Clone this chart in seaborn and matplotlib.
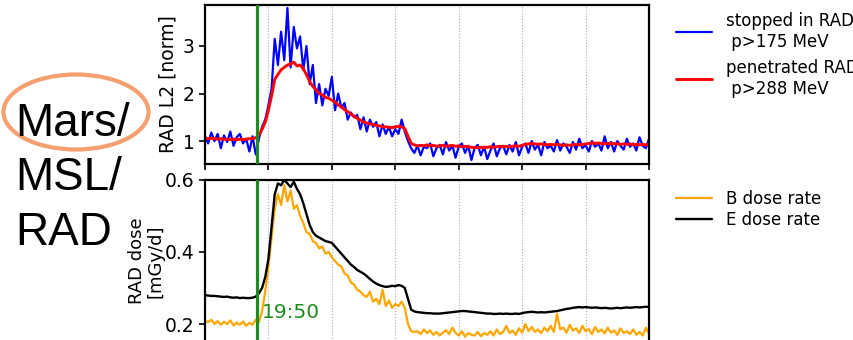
import numpy as np
import pandas as pd
import seaborn as sns
import matplotlib.pyplot as plt
from matplotlib.patches import Ellipse

# time step between samples (days after start of window)
step = 0.05

# --- top panel: RAD L2 normalized count rates ---
stopped = [1.10, 0.95, 1.18, 1.00, 1.15, 0.85, 1.12, 0.98, 1.20, 0.90, 1.08, 1.15, 0.95, 1.05, 0.78, 1.10, 0.72,
           1.05, 1.30, 1.45, 1.75, 2.10, 3.15, 2.60, 3.30, 2.70, 3.80, 2.55, 3.40, 2.95, 3.20,
           2.50, 3.00, 2.20, 2.60, 1.80, 2.20, 1.75, 2.10, 1.95, 2.35,
           1.65, 2.00, 1.70, 1.80, 1.45, 1.60, 1.50, 1.55, 1.25, 1.50,
           1.20, 1.45, 1.30, 1.40, 1.10, 1.35, 1.15, 1.30, 1.10, 1.25,
           1.15, 1.45, 1.20, 1.00, 0.85, 0.75,
           0.90, 0.70, 0.88, 0.85, 0.95, 0.68, 0.85, 0.92, 0.72, 0.98,
           0.80, 0.90, 0.65, 0.88, 0.95, 0.75, 0.90, 0.60, 0.85, 0.92,
           0.70, 0.88, 0.62, 0.80, 0.95, 0.68, 0.85, 0.90, 0.72, 0.92,
           0.78, 0.98, 0.70, 0.88, 0.95, 0.75, 1.00, 0.82, 0.92, 0.70,
           0.98, 0.85, 0.90, 0.78, 1.02, 0.80, 0.95, 0.88, 0.75, 0.98,
           0.82, 1.05, 0.85, 0.92, 0.78, 1.00, 0.88, 0.95, 0.80, 1.10,
           0.85, 0.98, 0.78, 1.00, 0.90, 0.82, 1.05, 0.88, 0.95, 0.80,
           1.08, 0.90, 0.85, 1.05]

penetrated = [1.06, 1.05, 1.06, 1.05, 1.04, 1.05, 1.04, 1.04, 1.03, 1.04, 1.03, 1.04, 1.03, 1.04, 1.05, 1.05, 1.07,
              1.12, 1.25, 1.40, 1.65, 1.95, 2.30, 2.40, 2.50, 2.55, 2.60, 2.62, 2.66, 2.58, 2.60,
              2.52, 2.40, 2.25, 2.15, 2.08, 2.00, 1.97, 1.92, 1.90, 1.86,
              1.82, 1.76, 1.72, 1.66, 1.62, 1.57, 1.52, 1.48, 1.44, 1.40,
              1.38, 1.36, 1.35, 1.33, 1.32, 1.30, 1.30, 1.29, 1.28, 1.30,
              1.31, 1.30, 1.26, 1.10, 0.95, 0.92,
              0.90, 0.91, 0.90, 0.92, 0.90, 0.91, 0.89, 0.90, 0.91, 0.89,
              0.90, 0.91, 0.89, 0.90, 0.88, 0.89, 0.88, 0.87, 0.86, 0.86,
              0.87, 0.86, 0.87, 0.88, 0.87, 0.88, 0.89, 0.88, 0.89, 0.88,
              0.89, 0.90, 0.89, 0.91, 0.93, 0.94, 0.95, 0.94, 0.93, 0.94,
              0.93, 0.92, 0.93, 0.92, 0.93, 0.92, 0.91, 0.92, 0.91, 0.92,
              0.93, 0.92, 0.93, 0.94, 0.95, 0.96, 0.95, 0.96, 0.95, 0.94,
              0.95, 0.94, 0.95, 0.94, 0.93, 0.94, 0.93, 0.94, 0.92, 0.93,
              0.92, 0.93, 0.92, 0.93]

# --- bottom panel: dose rates [mGy/d] ---
b_dose = [0.210, 0.205, 0.212, 0.200, 0.208, 0.198, 0.206, 0.200, 0.210, 0.196, 0.204, 0.198, 0.207, 0.195, 0.203, 0.198, 0.212,
          0.205, 0.235, 0.290, 0.360, 0.440, 0.520, 0.560, 0.530, 0.585, 0.540, 0.570, 0.520, 0.530, 0.500,
          0.480, 0.455, 0.450, 0.430, 0.425, 0.410, 0.415, 0.395, 0.400, 0.385,
          0.375, 0.365, 0.360, 0.340, 0.335, 0.315, 0.310, 0.295, 0.290, 0.280,
          0.275, 0.290, 0.262, 0.270, 0.255, 0.295, 0.250, 0.265, 0.245, 0.255,
          0.250, 0.262, 0.245, 0.200, 0.180, 0.178,
          0.180, 0.172, 0.185, 0.175, 0.182, 0.170, 0.178, 0.168, 0.176, 0.183,
          0.172, 0.190, 0.175, 0.168, 0.180, 0.165, 0.175, 0.170, 0.168, 0.178,
          0.166, 0.175, 0.170, 0.180, 0.168, 0.185, 0.172, 0.178, 0.195, 0.175,
          0.182, 0.170, 0.188, 0.176, 0.200, 0.180, 0.192, 0.178, 0.185, 0.175,
          0.190, 0.180, 0.195, 0.178, 0.228, 0.185, 0.190, 0.176, 0.198, 0.182,
          0.188, 0.175, 0.195, 0.180, 0.186, 0.172, 0.192, 0.178, 0.185, 0.174,
          0.190, 0.176, 0.182, 0.170, 0.188, 0.175, 0.180, 0.172, 0.185, 0.170,
          0.178, 0.168, 0.190, 0.172]

e_dose = [0.280, 0.279, 0.278, 0.278, 0.277, 0.276, 0.275, 0.276, 0.274, 0.273, 0.274, 0.272, 0.273, 0.272, 0.272, 0.273, 0.276,
          0.285, 0.300, 0.330, 0.380, 0.470, 0.560, 0.590, 0.585, 0.600, 0.590, 0.580, 0.595, 0.575, 0.560,
          0.535, 0.505, 0.475, 0.455, 0.445, 0.440, 0.435, 0.430, 0.428, 0.425,
          0.415, 0.405, 0.395, 0.385, 0.375, 0.365, 0.358, 0.350, 0.345, 0.340,
          0.333, 0.325, 0.318, 0.312, 0.308, 0.305, 0.303, 0.304, 0.306, 0.305,
          0.308, 0.306, 0.300, 0.270, 0.240, 0.235,
          0.233, 0.232, 0.231, 0.230, 0.230, 0.229, 0.229, 0.229, 0.230, 0.231,
          0.232, 0.233, 0.234, 0.235, 0.236, 0.236, 0.235, 0.234, 0.233, 0.232,
          0.231, 0.230, 0.229, 0.229, 0.228, 0.228, 0.229, 0.228, 0.229, 0.228,
          0.228, 0.229, 0.228, 0.230, 0.232, 0.233, 0.234, 0.233, 0.232, 0.233,
          0.232, 0.233, 0.234, 0.235, 0.236, 0.238, 0.240, 0.242, 0.243, 0.245,
          0.246, 0.247, 0.246, 0.247, 0.246, 0.245, 0.246, 0.245, 0.244, 0.245,
          0.244, 0.243, 0.244, 0.245, 0.244, 0.245, 0.246, 0.245, 0.246, 0.247,
          0.246, 0.247, 0.248, 0.247]

onset = 0.828        # flare arrival, 19:50
onset_label = '19:50'


def times(vals):
    return np.arange(len(vals)) * step


sns.set_style('ticks')
plt.rcParams['font.family'] = ['DejaVu Sans']
plt.rcParams.update({'text.color': 'black', 'axes.labelcolor': 'black',
                     'xtick.color': 'black', 'ytick.color': 'black'})

fig = plt.figure(figsize=(8.54, 3.4), dpi=100)
ax1 = fig.add_axes([0.240, 0.518, 0.520, 0.467])
ax2 = fig.add_axes([0.240, -0.006, 0.520, 0.477])

sns.lineplot(x=times(stopped), y=stopped, ax=ax1, color='#0000ff', lw=1.6,
             label='stopped in RAD\n p>175 MeV', estimator=None, sort=False)
sns.lineplot(x=times(penetrated), y=penetrated, ax=ax1, color='#ff0000', lw=2.1,
             label='penetrated RAD\n p>288 MeV', estimator=None, sort=False)

sns.lineplot(x=times(b_dose), y=b_dose, ax=ax2, color='#ffa500', lw=1.6,
             label='B dose rate', estimator=None, sort=False)
sns.lineplot(x=times(e_dose), y=e_dose, ax=ax2, color='black', lw=1.7,
             label='E dose rate', estimator=None, sort=False)

for ax in (ax1, ax2):
    ax.set_xlim(0, 7)
    ax.set_xticks(range(8))
    ax.set_xticklabels([])
    ax.grid(axis='x', color='#aaaaaa', ls=':', lw=0.8)
    ax.axvline(onset, color='#1e8c1e', lw=2.3, zorder=5)
    for s in ax.spines.values():
        s.set_linewidth(1.6)
        s.set_color('black')
    ax.tick_params(labelsize=13.5, width=1.2, length=4, color='black')

ax1.set_ylim(0.52, 3.86)
ax1.set_yticks([1, 2, 3])
ax1.set_ylabel('RAD L2 [norm]', fontsize=13.5)

ax2.set_ylim(0.15, 0.6)
ax2.set_yticks([0.2, 0.4, 0.6])
ax2.set_ylabel('RAD dose\n[mGy/d]', fontsize=13, linespacing=1.0)
ax2.yaxis.set_label_coords(-0.092, 0.5)
ax2.text(0.90, 0.217, onset_label, color='#1e8c1e', fontsize=14.5, va='baseline', ha='left')

ax1.legend(loc='upper left', bbox_to_anchor=(1.045, 1.0), frameon=False, fontsize=12,
           borderaxespad=0, handlelength=2.2, handletextpad=0.8, labelspacing=0.5)
ax2.legend(loc='upper left', bbox_to_anchor=(1.045, 0.98), frameon=False, fontsize=12,
           borderaxespad=0, handlelength=2.2, handletextpad=0.8, labelspacing=0.2)

# slide title on the left with the highlight ellipse
fig.text(15 / 854, 1 - 245 / 340, 'Mars/\nMSL/\nRAD', fontsize=33, va='baseline', ha='left',
         family=['Liberation Sans', 'DejaVu Sans'], linespacing=1.31, color='black')
fig.patches.append(Ellipse((76 / 854, 1 - 112 / 340), 145 / 854, 75 / 340, transform=fig.transFigure,
                           fill=False, edgecolor='#f5a070', lw=3))

fig.savefig('out.png', dpi=100)
